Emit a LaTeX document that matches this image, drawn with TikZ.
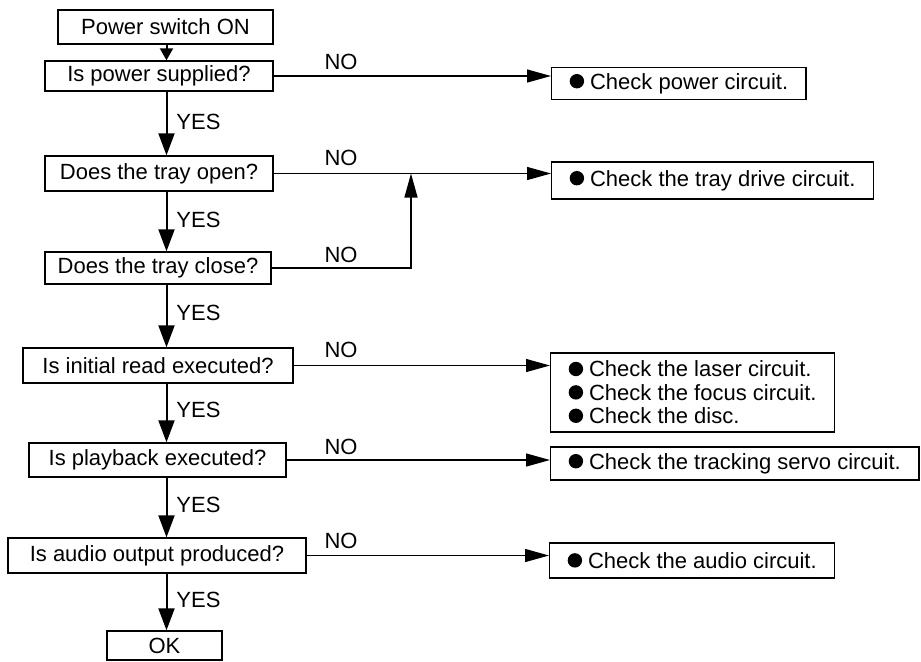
\documentclass[tikz,border=0pt]{standalone}
\usepackage{fontspec}
\setmainfont{Liberation Sans}
\usetikzlibrary{arrows.meta, positioning}

\newcommand{\blt}{\tikz[baseline=0pt]\fill (0pt,4pt) circle (3.6pt);\hspace{3pt}}

\begin{document}
\begin{tikzpicture}[
    x=0.5pt, y=-0.5pt,
    font=\fontsize{11}{11.7}\selectfont,
    box/.style={rectangle, draw, line width=0.7pt, inner sep=0pt, align=center},
    res/.style={rectangle, draw, line width=0.7pt, anchor=west, inner xsep=9pt, inner ysep=3pt, align=left},
    arrow/.style={-{Triangle[length=12pt, width=6.5pt]}, line width=0.65pt},
    down/.style={-{Triangle[length=11pt, width=8pt]}, line width=1pt},
    lbl/.style={inner sep=0pt}
]
\useasboundingbox (0,0) rectangle (921,661);

% Checks in the main column
\coordinate (spine) at (166.5,0);
\node[box, minimum width=107.5pt, minimum height=17pt] (start) at (165.5,27) {Power switch ON};
\node[box, minimum width=114pt, minimum height=15pt] (power) at (159,76) {Is power supplied?};
\node[box, minimum width=114pt, minimum height=17.5pt] (open) at (159,173.5) {Does the tray open?};
\node[box, minimum width=113pt, minimum height=16pt] (close) at (158,268) {Does the tray close?};
\node[box, minimum width=135pt, minimum height=17.5pt] (read) at (158,365.5) {Is initial read executed?};
\node[box, minimum width=128.5pt, minimum height=17pt] (play) at (157.5,460) {Is playback executed?};
\node[box, minimum width=149pt, minimum height=17.5pt] (audio) at (157,555.5) {Is audio output produced?};
\node[box, minimum width=57.5pt, minimum height=14.5pt] (ok) at (164.5,645.5) {OK};

% Remedies
\node[res, minimum height=15.5pt] (rpower) at (551,83.5) {\blt Check power circuit.};
\node[res, minimum height=18.5pt] (rtray) at (551,180.5) {\blt Check the tray drive circuit.};
\node[res, minimum height=39.5pt] (rread) at (550,392.5) {\blt Check the laser circuit.\\\blt Check the focus circuit.\\\blt Check the disc.};
\node[res, minimum height=16.5pt] (rplay) at (550,463.5) {\blt Check the tracking servo circuit.};
\node[res, minimum height=17.5pt] (raudio) at (549,560.5) {\blt Check the audio circuit.};

% YES arrows
\draw[-{Triangle[length=6pt, width=6.5pt]}, line width=1pt] (start.south -| spine) -- (power.north -| spine);
\draw[down] (power.south -| spine) -- (open.north -| spine);
\draw[down] (open.south -| spine) -- (close.north -| spine);
\draw[down] (close.south -| spine) -- (read.north -| spine);
\draw[down] (read.south -| spine) -- (play.north -| spine);
\draw[down] (play.south -| spine) -- (audio.north -| spine);
\draw[down] (audio.south -| spine) -- (ok.north -| spine);

\node[lbl, anchor=west] at (176,122) {YES};
\node[lbl, anchor=west] at (176,220) {YES};
\node[lbl, anchor=west] at (176,313) {YES};
\node[lbl, anchor=west] at (176,410) {YES};
\node[lbl, anchor=west] at (176,505) {YES};
\node[lbl, anchor=west] at (176,600) {YES};

% NO arrows
\coordinate (join) at (411,0);
\draw[arrow] (power.east) -- (power.east -| rpower.west);
\draw[arrow] (open.east) -- (open.east -| rtray.west);
\draw[arrow] (close.east) -- (close.east -| join) -- (open.east -| join);
\draw[arrow] (read.east) -- (read.east -| rread.west);
\draw[arrow] (play.east) -- (play.east -| rplay.west);
\draw[arrow] (audio.east) -- (audio.east -| raudio.west);

\node[lbl] at (341,62) {NO};
\node[lbl] at (341,158) {NO};
\node[lbl] at (341,255) {NO};
\node[lbl] at (341,350) {NO};
\node[lbl] at (341,447) {NO};
\node[lbl] at (341,541) {NO};

\end{tikzpicture}
\end{document}
